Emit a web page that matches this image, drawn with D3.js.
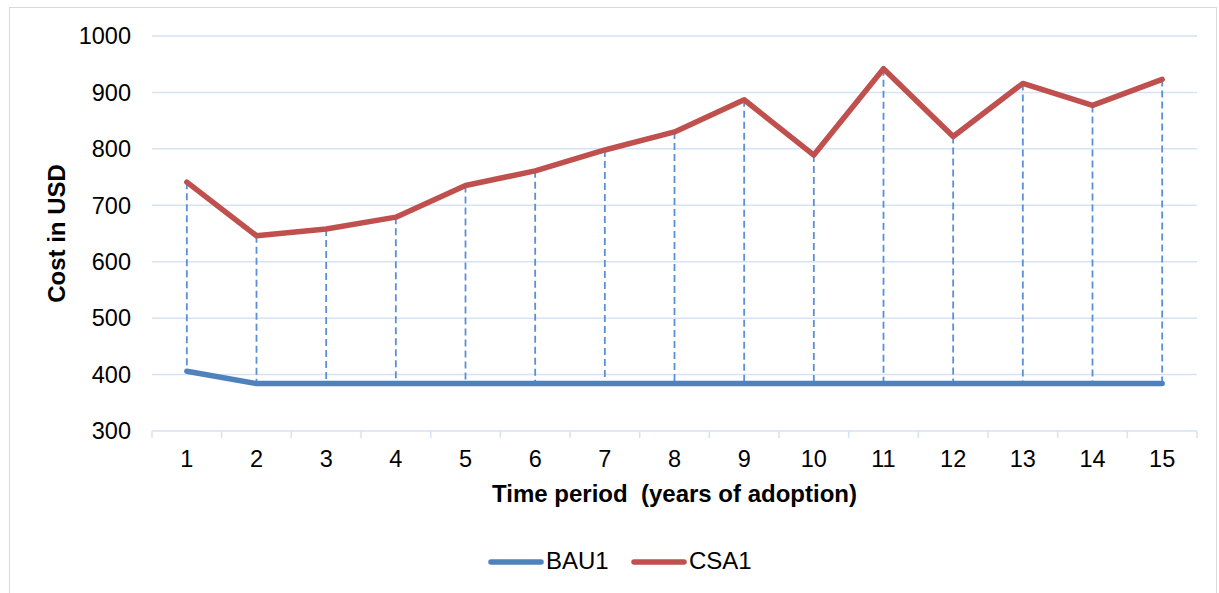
<!DOCTYPE html>
<html>
<head>
<meta charset="utf-8">
<script src="https://cdn.jsdelivr.net/npm/d3@7"></script>
<style>
  body { margin: 0; background: #fff; }
  svg { font-family: "Liberation Sans", Arial, sans-serif; }
</style>
</head>
<body>
<div id="chart"></div>
<script>
var width = 1219, height = 593;

// data
var periods = ["1", "2", "3", "4", "5", "6", "7", "8", "9", "10", "11", "12", "13", "14", "15"];
var bau1 = [406, 384, 384, 384, 384, 384, 384, 384, 384, 384, 384, 384, 384, 384, 384];
var csa1 = [741, 646, 658, 679, 735, 761, 798, 830, 887, 789, 942, 822, 916, 877, 923];
var yTicks = [300, 400, 500, 600, 700, 800, 900, 1000];

var margin = {left: 152, right: 22, top: 36, bottom: 162};

var svg = d3.select("#chart").append("svg")
    .attr("width", width)
    .attr("height", height);

// chart border
svg.append("rect")
    .attr("x", 9.5).attr("y", 7.5)
    .attr("width", width - 12).attr("height", height)
    .attr("fill", "none")
    .attr("stroke", "#d9d9d9");

var x = d3.scaleBand()
    .domain(periods)
    .range([margin.left, width - margin.right]);

var y = d3.scaleLinear()
    .domain([300, 1000])
    .range([height - margin.bottom, margin.top]);

var gridColor = "#d6e3f4";

// gridlines
svg.append("g")
    .selectAll("line")
    .data(yTicks.slice(1))
    .join("line")
    .attr("x1", margin.left).attr("x2", width - margin.right)
    .attr("y1", d => y(d)).attr("y2", d => y(d))
    .attr("stroke", gridColor)
    .attr("stroke-width", 1.5);

// y axis labels
svg.append("g")
    .selectAll("text")
    .data(yTicks)
    .join("text")
    .attr("x", 131)
    .attr("y", d => y(d))
    .attr("dy", "0.35em")
    .attr("text-anchor", "end")
    .attr("font-size", 23.5)
    .attr("fill", "#000")
    .text(d => d);

// x axis line and ticks between categories
var xAxis = svg.append("g");
xAxis.append("line")
    .attr("x1", margin.left).attr("x2", width - margin.right)
    .attr("y1", y(300)).attr("y2", y(300))
    .attr("stroke", gridColor)
    .attr("stroke-width", 1.5);
var boundaries = periods.map(p => x(p)).concat([x(periods[periods.length - 1]) + x.bandwidth()]);
xAxis.selectAll("line.tick")
    .data(boundaries)
    .join("line")
    .attr("class", "tick")
    .attr("x1", d => d).attr("x2", d => d)
    .attr("y1", y(300)).attr("y2", y(300) + 7)
    .attr("stroke", gridColor)
    .attr("stroke-width", 1.5);
xAxis.selectAll("text")
    .data(periods)
    .join("text")
    .attr("x", d => x(d) + x.bandwidth() / 2)
    .attr("y", 467)
    .attr("text-anchor", "middle")
    .attr("font-size", 23.5)
    .attr("fill", "#000")
    .text(d => d);

// drop lines between the two series
svg.append("g")
    .selectAll("line")
    .data(periods)
    .join("line")
    .attr("x1", d => x(d) + x.bandwidth() / 2)
    .attr("x2", d => x(d) + x.bandwidth() / 2)
    .attr("y1", (d, i) => y(csa1[i]))
    .attr("y2", (d, i) => y(bau1[i]))
    .attr("stroke", "#5b8fd8")
    .attr("stroke-width", 1.8)
    .attr("stroke-dasharray", "7,4");

var line = d3.line()
    .x((d, i) => x(periods[i]) + x.bandwidth() / 2)
    .y(d => y(d));

svg.append("path")
    .datum(bau1)
    .attr("d", line)
    .attr("fill", "none")
    .attr("stroke", "#4f81bd")
    .attr("stroke-width", 5.5)
    .attr("stroke-linecap", "round")
    .attr("stroke-linejoin", "round");

svg.append("path")
    .datum(csa1)
    .attr("d", line)
    .attr("fill", "none")
    .attr("stroke", "#c0504d")
    .attr("stroke-width", 5.5)
    .attr("stroke-linecap", "round")
    .attr("stroke-linejoin", "round");

// axis titles
svg.append("text")
    .attr("transform", "translate(65," + ((margin.top + y(300)) / 2) + ") rotate(-90)")
    .attr("text-anchor", "middle")
    .attr("font-size", 24)
    .attr("font-weight", "bold")
    .text("Cost in USD");

svg.append("text")
    .attr("x", (margin.left + width - margin.right) / 2)
    .attr("y", 502)
    .attr("text-anchor", "middle")
    .attr("font-size", 24)
    .attr("font-weight", "bold")
    .style("white-space", "pre")
    .text("Time period  (years of adoption)");

// legend
var legendItems = [
    {name: "BAU1", color: "#4f81bd", x: 491},
    {name: "CSA1", color: "#c0504d", x: 634}
];
var legend = svg.append("g");
legendItems.forEach(function(d) {
    legend.append("line")
        .attr("x1", d.x).attr("x2", d.x + 50)
        .attr("y1", 562).attr("y2", 562)
        .attr("stroke", d.color)
        .attr("stroke-width", 5.5)
        .attr("stroke-linecap", "round");
    legend.append("text")
        .attr("x", d.x + 55)
        .attr("y", 569)
        .attr("font-size", 24)
        .text(d.name);
});
</script>
</body>
</html>
